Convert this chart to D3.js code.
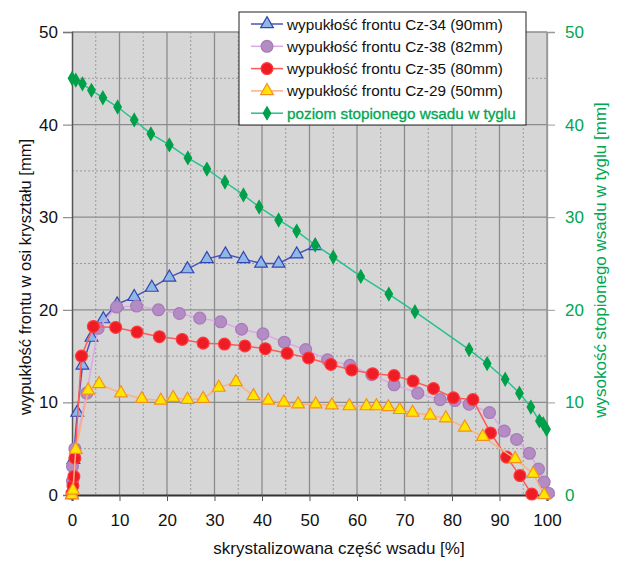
<!DOCTYPE html>
<html>
<head>
<meta charset="utf-8">
<script src="https://cdn.jsdelivr.net/npm/d3@7"></script>
<style>
body { margin: 0; background: #fff; }
text { font-family: "Liberation Sans", Arial, sans-serif; }
</style>
</head>
<body>
<script>
// data (x = % crystallised, y = mm)
var cz34X = [0, 0.3, 1.1, 2.2, 4.1, 6.6, 9.5, 13.1, 16.8, 20.5, 24.3, 28.4, 32.3, 36.1, 39.8, 43.5, 47.3, 51.2];
var cz34Y = [0, 3.8, 8.9, 14.0, 17.0, 19.0, 20.6, 21.4, 22.4, 23.5, 24.4, 25.5, 26.0, 25.5, 25.0, 25.0, 26.0, 26.9];

var cz38X = [0.1, 0.1, 0.6, 3.1, 5.5, 9.4, 13.6, 18.2, 22.6, 26.9, 31.3, 35.7, 40.2, 44.7, 49.2, 53.8, 58.5, 63.1, 67.8, 72.8, 77.5, 80.6, 83.6, 87.9, 91.0, 93.6, 96.3, 98.2, 99.4, 100.3];
var cz38Y = [1.5, 3.1, 5.0, 11.0, 18.0, 20.3, 20.4, 20.0, 19.6, 19.1, 18.7, 17.9, 17.4, 16.5, 15.7, 14.6, 14.0, 13.0, 11.9, 11.0, 10.3, 10.2, 9.8, 8.9, 6.9, 6.0, 4.5, 2.8, 1.4, 0.2];

var cz35X = [0, 0.2, 0.4, 0.6, 2.0, 4.5, 9.2, 13.7, 18.4, 23.2, 27.6, 32.1, 36.4, 40.7, 45.3, 49.8, 54.5, 58.9, 63.3, 67.8, 71.8, 76.1, 80.3, 84.4, 88.1, 91.5, 94.3, 96.8];
var cz35Y = [0.2, 1.0, 2.0, 4.0, 15.0, 18.2, 18.1, 17.6, 17.1, 16.8, 16.4, 16.3, 16.1, 15.8, 15.3, 14.8, 14.1, 13.5, 13.1, 12.9, 12.3, 11.5, 10.5, 10.3, 6.7, 4.1, 2.1, 0.1];

var cz29X = [0, 0.2, 0.8, 3.4, 5.7, 10.3, 14.7, 18.7, 21.3, 24.3, 27.6, 30.9, 34.5, 38.2, 41.3, 44.6, 47.6, 51.3, 54.7, 58.4, 62.0, 64.1, 66.6, 69.0, 71.7, 75.4, 78.7, 82.7, 86.5, 93.3, 97.1, 99.4];
var cz29Y = [0, 0.5, 4.9, 11.3, 12.0, 11.0, 10.4, 10.2, 10.5, 10.3, 10.4, 11.6, 12.2, 10.7, 10.2, 10.0, 9.8, 9.8, 9.7, 9.6, 9.6, 9.6, 9.5, 9.2, 8.9, 8.6, 8.3, 7.3, 6.3, 3.9, 2.3, 0];

var meltX = [0, 0.8, 2.2, 4.1, 6.5, 9.6, 13.1, 16.6, 20.5, 24.4, 28.4, 32.2, 36.1, 39.4, 43.5, 47.3, 51.2, 55.0, 60.8, 66.7, 72.2, 83.6, 87.4, 91.2, 94.2, 96.6, 98.4, 99.2, 99.9];
var meltY = [45.0, 44.8, 44.4, 43.7, 42.9, 41.9, 40.5, 39.0, 37.8, 36.4, 35.2, 33.8, 32.4, 31.1, 29.7, 28.5, 27.0, 25.7, 23.6, 21.7, 19.8, 15.7, 14.2, 12.5, 11.0, 9.5, 8.0, 7.7, 7.1];

var legendLabels = ["wypukłość frontu Cz-34 (90mm)", "wypukłość frontu Cz-38 (82mm)", "wypukłość frontu Cz-35 (80mm)", "wypukłość frontu Cz-29 (50mm)", "poziom stopionego wsadu w tyglu"];
var xTicks = [0, 10, 20, 30, 40, 50, 60, 70, 80, 90, 100];
var yTicks = [0, 10, 20, 30, 40, 50];

var svgWidth = 618;
var svgHeight = 563;
var margin = {top: 32, bottom: 68, left: 72, right: 71};
var chartWidth = svgWidth - margin.left - margin.right;
var chartHeight = svgHeight - margin.top - margin.bottom;

var green = "#00a651";

var svg = d3.select("body").append("svg").attr("width", svgWidth).attr("height", svgHeight);
var chartGroup = svg.append("g").attr("transform", `translate(${margin.left},${margin.top})`);

var xScale = d3.scaleLinear().domain([0, 100]).range([0, chartWidth]);
var yScale = d3.scaleLinear().domain([0, 50]).range([chartHeight, 0]);
var y2Scale = d3.scaleLinear().domain([0, 50]).range([chartHeight, 0]);

// plot background
chartGroup.append("rect").attr("width", chartWidth).attr("height", chartHeight).attr("fill", "#d6d6d6");

// minor (dotted) and major (solid) grid
chartGroup.append("g").selectAll("line").data(d3.range(5, 100, 10)).enter().append("line")
    .attr("x1", d => xScale(d)).attr("x2", d => xScale(d)).attr("y1", 0).attr("y2", chartHeight)
    .attr("stroke", "#9a9a9a").attr("stroke-dasharray", "2,2");
chartGroup.append("g").selectAll("line").data(d3.range(5, 50, 10)).enter().append("line")
    .attr("y1", d => yScale(d)).attr("y2", d => yScale(d)).attr("x1", 0).attr("x2", chartWidth)
    .attr("stroke", "#9a9a9a").attr("stroke-dasharray", "2,2");
chartGroup.append("g").selectAll("line").data(xTicks.slice(1)).enter().append("line")
    .attr("x1", d => xScale(d)).attr("x2", d => xScale(d)).attr("y1", 0).attr("y2", chartHeight)
    .attr("stroke", "#8c8c8c").attr("stroke-width", 1.3);
chartGroup.append("g").selectAll("line").data(yTicks.slice(1)).enter().append("line")
    .attr("y1", d => yScale(d)).attr("y2", d => yScale(d)).attr("x1", 0).attr("x2", chartWidth)
    .attr("stroke", "#8c8c8c").attr("stroke-width", 1.3);

// axes
var bottomAxis = d3.axisBottom(xScale).tickValues(xTicks).tickSize(6).tickPadding(13);
var leftAxis = d3.axisLeft(yScale).tickValues(yTicks).tickSize(9).tickPadding(5);
var rightAxis = d3.axisRight(y2Scale).tickValues(yTicks).tickSize(8).tickPadding(10);

var xAxisG = chartGroup.append("g").attr("transform", `translate(0,${chartHeight})`).call(bottomAxis);
var yAxisG = chartGroup.append("g").call(leftAxis);
var y2AxisG = chartGroup.append("g").attr("transform", `translate(${chartWidth},0)`).call(rightAxis);

xAxisG.select(".domain").attr("stroke", "#333").attr("stroke-width", 2);
xAxisG.selectAll(".tick line").attr("stroke", "#555");
yAxisG.select(".domain").attr("stroke", "#555").attr("stroke-width", 1.5);
yAxisG.selectAll(".tick line").attr("stroke", "#777");
y2AxisG.select(".domain").attr("stroke", "#999").attr("stroke-width", 1.3);
y2AxisG.selectAll(".tick line").attr("stroke", "#999");
xAxisG.selectAll("text").attr("font-size", 17).attr("fill", "#111").attr("font-family", "Liberation Sans, Arial, sans-serif");
yAxisG.selectAll("text").attr("font-size", 17).attr("fill", "#111").attr("font-family", "Liberation Sans, Arial, sans-serif");
y2AxisG.selectAll("text").attr("font-size", 17).attr("fill", green).attr("font-family", "Liberation Sans, Arial, sans-serif");

// axis titles
svg.append("text").attr("x", 339).attr("y", 554).attr("text-anchor", "middle")
    .attr("font-size", 17).attr("fill", "#111").text("skrystalizowana część wsadu [%]");
svg.append("text").attr("transform", "translate(31,277) rotate(-90)").attr("text-anchor", "middle")
    .attr("font-size", 16.5).attr("fill", "#111").text("wypukłość frontu w osi kryształu [mm]");
svg.append("text").attr("transform", "translate(606,260) rotate(-90)").attr("text-anchor", "middle")
    .attr("font-size", 17).attr("fill", green).text("wysokość stopionego wsadu w tyglu [mm]");

// series
var series = [
    {x: cz34X, y: cz34Y, line: "#4a55b8", fill: "#8fb8e6", stroke: "#3345b0", shape: d3.symbolTriangle, size: 70},
    {x: cz38X, y: cz38Y, line: "#dca8e6", fill: "#b48cc4", stroke: "#a87ab8", shape: d3.symbolCircle, size: 110},
    {x: cz35X, y: cz35Y, line: "#ff5a5a", fill: "#ee1c25", stroke: "#ff3a3a", shape: d3.symbolCircle, size: 110},
    {x: cz29X, y: cz29Y, line: "#fbb07e", fill: "#ffe600", stroke: "#f59020", shape: d3.symbolTriangle, size: 70},
    {x: meltX, y: meltY, line: "#25c18f", fill: "#00a04a", stroke: "#00a04a", shape: d3.symbolDiamond, size: 48}
];

var line = d3.line().x(d => xScale(d[0])).y(d => yScale(d[1]));

series.forEach(function(s) {
    var pts = s.x.map((v, i) => [v, s.y[i]]);
    chartGroup.append("path").datum(pts).attr("d", line)
        .attr("fill", "none").attr("stroke", s.line).attr("stroke-width", 1.5);
    chartGroup.append("g").selectAll("path").data(pts).enter().append("path")
        .attr("d", d3.symbol().type(s.shape).size(s.size))
        .attr("transform", d => `translate(${xScale(d[0])},${yScale(d[1])})`)
        .attr("fill", s.fill).attr("stroke", s.stroke).attr("stroke-width", 1.2);
});

// legend
var legend = svg.append("g").attr("transform", "translate(239,12)");
legend.append("rect").attr("width", 287).attr("height", 113).attr("fill", "#fff").attr("stroke", "#222");
var legendItems = legend.selectAll("g.item").data(series).enter().append("g")
    .attr("transform", (d, i) => `translate(0,${12 + i * 22.3})`);
legendItems.append("line").attr("x1", 12).attr("x2", 44)
    .attr("stroke", d => d.line).attr("stroke-width", 1.5);
legendItems.append("path").attr("d", d => d3.symbol().type(d.shape).size(d.size)())
    .attr("transform", "translate(28,0)")
    .attr("fill", d => d.fill).attr("stroke", d => d.stroke).attr("stroke-width", 1.2);
legendItems.append("text").attr("x", 48).attr("y", 5.5).attr("font-size", 15.3)
    .attr("fill", (d, i) => i == 4 ? green : "#111")
    .attr("stroke", (d, i) => i == 4 ? green : "none").attr("stroke-width", 0.3)
    .text((d, i) => legendLabels[i]);
</script>
</body>
</html>
